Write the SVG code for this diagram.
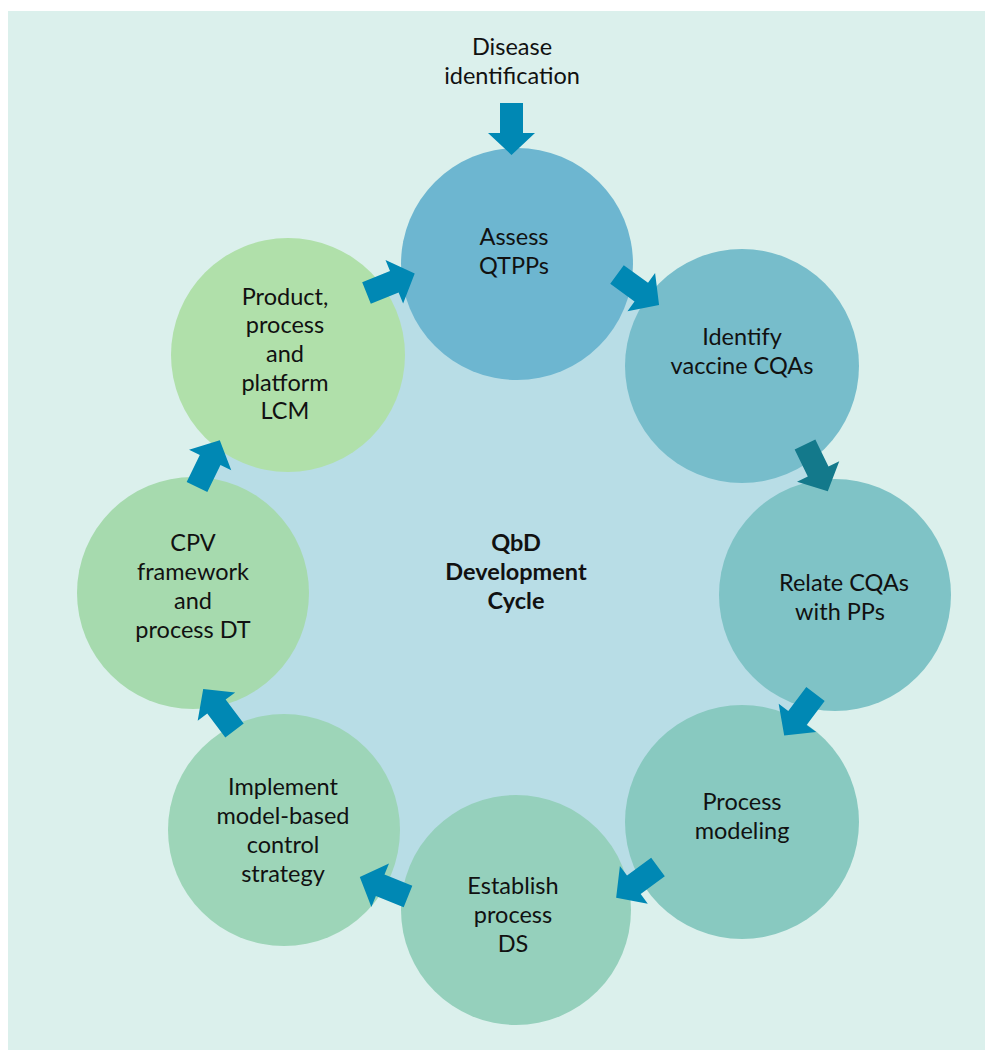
<svg xmlns="http://www.w3.org/2000/svg" width="985" height="1050" viewBox="0 0 985 1050">
<style>
text{font-family:Lato,"Liberation Sans",sans-serif;font-size:23.5px;fill:#111;text-anchor:middle}
.b{font-weight:bold}
.ar{fill:#0088b4}
.ard{fill:#13798b}
</style>
<defs>
<path id="arw" d="M0,-11.5 L30,-11.5 L30,-23.5 L52,0 L30,23.5 L30,11.5 L0,11.5 Z"/>
</defs>
<rect x="0" y="0" width="985" height="1050" fill="#ffffff"/>
<rect x="8" y="11" width="977" height="1039" fill="#dbf0ec"/>
<g id="center">
<circle cx="516" cy="588" r="322" fill="#b8dde6"/>
<text class="b" x="516" y="551">QbD</text>
<text class="b" x="516" y="580">Development</text>
<text class="b" x="516" y="609">Cycle</text>
</g>
<g id="start">
<text x="512" y="55">Disease</text>
<text x="512" y="84">identification</text>
</g>
<g id="n1"><circle cx="517" cy="264" r="116" fill="#6db6d0"/><text x="514" y="245">Assess</text><text x="514" y="274">QTPPs</text></g>
<g id="n2"><circle cx="742" cy="366" r="117" fill="#77bdcb"/><text x="742" y="345">Identify</text><text x="742" y="374">vaccine CQAs</text></g>
<g id="n3"><circle cx="835" cy="595" r="116" fill="#7fc3c6"/><text x="844" y="591">Relate CQAs</text><text x="840" y="620">with PPs</text></g>
<g id="n4"><circle cx="742" cy="822" r="117" fill="#88c9c0"/><text x="742" y="810">Process</text><text x="742" y="839">modeling</text></g>
<g id="n5"><circle cx="516" cy="910" r="115" fill="#95d0bc"/><text x="513" y="894">Establish</text><text x="513" y="923">process</text><text x="513" y="952">DS</text></g>
<g id="n6"><circle cx="284" cy="830" r="116" fill="#9dd5b8"/><text x="283" y="795">Implement</text><text x="283" y="824">model-based</text><text x="283" y="853">control</text><text x="283" y="882">strategy</text></g>
<g id="n7"><circle cx="193" cy="593" r="116" fill="#a6daae"/><text x="193" y="551">CPV</text><text x="193" y="580">framework</text><text x="193" y="609">and</text><text x="193" y="638">process DT</text></g>
<g id="n8"><circle cx="288" cy="355" r="117" fill="#b0e0aa"/><text x="285" y="305">Product,</text><text x="285" y="333">process</text><text x="285" y="362">and</text><text x="285" y="391">platform</text><text x="285" y="419">LCM</text></g>
<g id="connectors">
<use href="#arw" class="ar" transform="translate(511.5,103) rotate(90)"/>
<use href="#arw" class="ar" transform="translate(366.5,293) rotate(-22)"/>
<use href="#arw" class="ar" transform="translate(617,274.5) rotate(36)"/>
<use href="#arw" class="ard" transform="translate(805,444.5) rotate(64)"/>
<use href="#arw" class="ar" transform="translate(815.5,694) rotate(127)"/>
<use href="#arw" class="ar" transform="translate(658,867) rotate(143.6)"/>
<use href="#arw" class="ar" transform="translate(408,896.5) rotate(202)"/>
<use href="#arw" class="ar" transform="translate(234.5,730.5) rotate(233)"/>
<use href="#arw" class="ar" transform="translate(197,487) rotate(-64)"/>
</g>
</svg>
